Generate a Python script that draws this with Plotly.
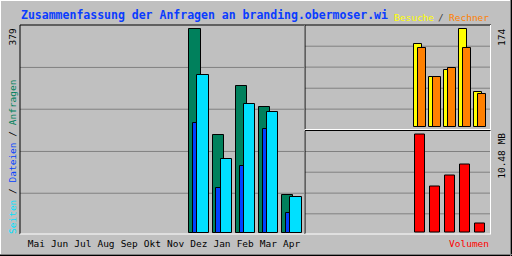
import plotly.graph_objects as go

# ---- data ----
months = ["Mai", "Jun", "Jul", "Aug", "Sep", "Okt", "Nov", "Dez", "Jan", "Feb", "Mar", "Apr"]
anfragen = [0, 0, 0, 0, 0, 0, 0, 379, 181, 273, 235, 70]   # hits
dateien = [0, 0, 0, 0, 0, 0, 0, 204, 83, 124, 193, 36]      # files
seiten = [0, 0, 0, 0, 0, 0, 0, 293, 137, 239, 224, 66]      # pages
besuche = [0, 0, 0, 0, 0, 0, 0, 147, 90, 101, 174, 62]      # visits
rechner = [0, 0, 0, 0, 0, 0, 0, 140, 89, 106, 140, 60]      # sites
volumen_mb = [0, 0, 0, 0, 0, 0, 0, 10.48, 4.95, 6.10, 7.27, 0.99]

title = "Zusammenfassung der Anfragen an branding.obermoser.wi"
max_left_label = "379"
max_top_label = "174"
max_bottom_label = "10.48 MB"

# ---- style ----
BG = "#C0C0C0"
C_HITS = "#00805C"
C_FILES = "#0040FF"
C_PAGES = "#00E0FF"
C_VISITS = "#FFFF00"
C_SITES = "#FF8000"
C_KB = "#FF0000"
C_TITLE = "#0A3CFF"
GRID = "#808080"
FONT = "DejaVu Sans Mono"
W, H = 512, 256


def px(x):
    return x / W


def py(y):
    return 1 - y / H


def nz(vals, off=0.0):
    xs = [i + off for i, v in enumerate(vals) if v]
    ys = [v for v in vals if v]
    return xs, ys


fig = go.Figure()
line = dict(color="black", width=1)

# left panel: hits, files, pages
for vals, col, off in [(anfragen, C_HITS, 0.0), (dateien, C_FILES, 0.172), (seiten, C_PAGES, 0.345)]:
    xs, ys = nz(vals)
    fig.add_trace(go.Bar(x=xs, y=ys, width=0.491, offset=off, marker=dict(color=col, line=line),
                         xaxis="x", yaxis="y", hoverinfo="skip"))

# top right: visits, sites
for vals, col, off in [(besuche, C_VISITS, 0.0), (rechner, C_SITES, 0.267)]:
    xs, ys = nz(vals)
    fig.add_trace(go.Bar(x=xs, y=ys, width=0.493, offset=off, marker=dict(color=col, line=line),
                         xaxis="x2", yaxis="y2", hoverinfo="skip"))

# bottom right: volume
xs, ys = nz(volumen_mb)
fig.add_trace(go.Bar(x=xs, y=ys, width=0.647, offset=0.0, marker=dict(color=C_KB, line=line),
                     xaxis="x3", yaxis="y3", hoverinfo="skip"))

# ---- panels (pixel boxes) ----
L = (20, 25, 305, 234)
TR = (305, 25, 491, 129.5)
BR = (305, 130.5, 491, 234)

shapes = []
# gridlines
for ax in ["", "2", "3"]:
    for f in [0.195, 0.395, 0.597, 0.797]:
        shapes.append(dict(type="line", xref=f"x{ax} domain", yref=f"y{ax} domain", x0=0, x1=1, y0=f, y1=f,
                           line=dict(color=GRID, width=1), layer="below"))
# 3D borders
for (x0, y0, x1, y1) in [L, TR, BR]:
    shapes.append(dict(type="line", xref="paper", yref="paper", x0=px(x0), x1=px(x1), y0=py(y0), y1=py(y0),
                       line=dict(color="black", width=1)))
    shapes.append(dict(type="line", xref="paper", yref="paper", x0=px(x0), x1=px(x0), y0=py(y0), y1=py(y1),
                       line=dict(color="black", width=1)))
    shapes.append(dict(type="line", xref="paper", yref="paper", x0=px(x0), x1=px(x1), y0=py(y1), y1=py(y1),
                       line=dict(color="white", width=1)))
    shapes.append(dict(type="line", xref="paper", yref="paper", x0=px(x1 - 0.5), x1=px(x1 - 0.5), y0=py(y0), y1=py(y1),
                       line=dict(color="white", width=1)))
# outer frame
shapes += [
    dict(type="line", xref="paper", yref="paper", x0=0, x1=1, y0=py(0.5), y1=py(0.5), line=dict(color="white", width=1)),
    dict(type="line", xref="paper", yref="paper", x0=px(0.5), x1=px(0.5), y0=0, y1=1, line=dict(color="white", width=1)),
    dict(type="line", xref="paper", yref="paper", x0=0, x1=1, y0=py(255.5), y1=py(255.5), line=dict(color="black", width=1)),
    dict(type="line", xref="paper", yref="paper", x0=px(511.5), x1=px(511.5), y0=0, y1=1, line=dict(color="black", width=1)),
    dict(type="line", xref="paper", yref="paper", x0=0, x1=1, y0=py(254.5), y1=py(254.5), line=dict(color="#808080", width=1)),
    dict(type="line", xref="paper", yref="paper", x0=px(510.5), x1=px(510.5), y0=0, y1=1, line=dict(color="#808080", width=1)),
]

f_small = dict(family=FONT, size=9.5, color="black")


def ann(text, x, y, color="black", size=9.5, angle=0, xanchor="center"):
    return dict(text=text, x=px(x), y=py(y), xref="paper", yref="paper", showarrow=False,
                xanchor=xanchor, yanchor="middle", textangle=angle,
                font=dict(family=FONT, size=size, color=color))


left_title = (f"<span style='color:{C_PAGES}'>Seiten</span> / "
              f"<span style='color:{C_FILES}'>Dateien</span> / "
              f"<span style='color:{C_HITS}'>Anfragen</span>")

annotations = [
    dict(text=f"<b>{title}</b>", x=px(19), y=py(14.5), xref="paper", yref="paper", showarrow=False,
         xanchor="left", yanchor="middle", font=dict(family=FONT, size=11.5, color=C_TITLE)),
    ann("Besuche", 414, 17, color=C_VISITS),
    ann("/", 441, 17, color="#404040"),
    ann("Rechner", 468.5, 17, color=C_SITES),
    ann("Volumen", 468.7, 243, color=C_KB),
    ann(max_left_label, 12, 37.5, angle=-90),
    ann(max_top_label, 501.5, 37.5, angle=-90),
    ann(max_bottom_label, 501.5, 156.3, angle=-90),
    ann(left_title, 12, 157, angle=-90),
]

noax = dict(showgrid=False, zeroline=False, showline=False, showticklabels=False, ticks="", fixedrange=True)

fig.update_layout(
    width=W, height=H, margin=dict(l=0, r=0, t=0, b=0),
    paper_bgcolor=BG, plot_bgcolor=BG, showlegend=False, barmode="overlay", bargap=0,
    xaxis=dict(**{**noax, "showticklabels": True}, domain=[px(L[0]), px(L[2])], range=[-0.297, 11.987],
               tickvals=[i + 0.41 for i in range(len(months))], ticktext=months, tickfont=f_small,
               anchor="y", ticklabelstandoff=2),
    yaxis=dict(**noax, domain=[py(L[3]), py(L[1])], range=[-2.8, 387.0], anchor="x"),
    xaxis2=dict(**noax, domain=[px(TR[0]), px(TR[2])], range=[-0.287, 12.113], anchor="y2"),
    yaxis2=dict(**noax, domain=[py(TR[3]), py(TR[1])], range=[-3.9, 181.6], anchor="x2"),
    xaxis3=dict(**noax, domain=[px(BR[0]), px(BR[2])], range=[-0.333, 12.067], anchor="y3"),
    yaxis3=dict(**noax, domain=[py(BR[3]), py(BR[1])], range=[-0.182, 10.886], anchor="x3"),
    shapes=shapes, annotations=annotations,
)

fig.write_html("out.html")
